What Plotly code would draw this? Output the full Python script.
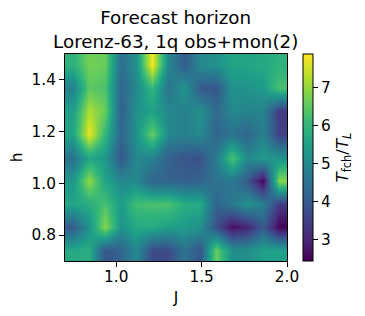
import plotly.graph_objects as go

J_centers = [0.746, 0.839, 0.932, 1.025, 1.118, 1.211, 1.304, 1.396, 1.489, 1.582, 1.675, 1.768, 1.861, 1.954]
h_centers = [0.744, 0.833, 0.922, 1.011, 1.100, 1.189, 1.278, 1.367, 1.456]
row_0744 = [5.7, 5.8, 3.9, 4.2, 5.0, 3.7, 3.7, 4.5, 3.9, 6.6, 5.1, 5.1, 5.5, 5.5]
row_0833 = [4.0, 5.2, 6.9, 5.2, 5.7, 5.7, 5.5, 5.4, 5.2, 3.8, 2.7, 3.0, 4.0, 2.5]
row_0922 = [5.6, 5.8, 6.3, 5.4, 6.2, 6.3, 6.3, 5.8, 5.7, 4.2, 4.6, 5.2, 4.8, 3.4]
row_1011 = [5.3, 7.0, 5.6, 5.0, 5.0, 4.2, 4.2, 4.1, 4.2, 4.5, 4.6, 4.0, 2.5, 6.9]
row_1100 = [4.5, 5.6, 5.3, 3.9, 5.0, 4.8, 4.1, 3.9, 3.8, 4.7, 6.3, 5.0, 5.4, 5.2]
row_1189 = [5.6, 7.7, 6.0, 4.2, 5.2, 6.6, 5.0, 4.8, 5.0, 4.2, 4.5, 4.2, 4.8, 3.5]
row_1278 = [5.5, 7.2, 6.6, 4.1, 5.2, 5.5, 5.0, 4.8, 5.2, 4.3, 5.0, 4.9, 4.9, 3.4]
row_1367 = [4.8, 6.5, 6.3, 4.2, 5.0, 6.0, 4.5, 5.3, 4.0, 3.9, 5.2, 5.2, 5.4, 6.3]
row_1456 = [5.9, 6.7, 6.6, 4.4, 5.2, 7.8, 5.0, 4.0, 5.0, 5.2, 5.6, 5.6, 5.7, 5.9]
Z = [row_0744, row_0833, row_0922, row_1011, row_1100, row_1189, row_1278, row_1367, row_1456]
z_min, z_max = 2.45, 7.87
FONT = "DejaVu Sans"
TICK_SIZE = 15.3

fig = go.Figure(go.Heatmap(
    x=J_centers, y=h_centers, z=Z, zsmooth="best", colorscale="Viridis",
    zmin=z_min, zmax=z_max,
    colorbar=dict(
        thickness=10, thicknessmode="pixels", len=1, lenmode="fraction",
        x=1.066, xanchor="left", y=0.5, yanchor="middle", xpad=0, ypad=0,
        outlinewidth=1, outlinecolor="black",
        tickvals=[3, 4, 5, 6, 7], ticks="outside", ticklen=5, tickwidth=1, tickcolor="black",
        tickfont=dict(family=FONT, size=TICK_SIZE, color="black"),
        title=dict(text="<i>T</i><sub>fch</sub>/<i>T</i><sub><i>L</i></sub>", side="right",
                   font=dict(family=FONT, size=16.5, color="black")),
    ),
))
axis_style = dict(showline=True, linecolor="black", linewidth=1, mirror=True,
                  ticks="outside", ticklen=5, tickwidth=1, tickcolor="black",
                  showgrid=False, zeroline=False, automargin=False,
                  tickfont=dict(family=FONT, size=TICK_SIZE, color="black"))
fig.update_xaxes(range=[0.7, 2.0], tickvals=[1.0, 1.5, 2.0], ticktext=["1.0", "1.5", "2.0"],
                 ticklabelstandoff=-3,
                 title=dict(text="J", font=dict(family=FONT, size=TICK_SIZE, color="black"), standoff=6), **axis_style)
fig.update_yaxes(range=[0.7, 1.5], tickvals=[0.8, 1.0, 1.2, 1.4], ticktext=["0.8", "1.0", "1.2", "1.4"],
                 title=dict(text="h", font=dict(family=FONT, size=TICK_SIZE, color="black"), standoff=6), **axis_style)
fig.update_layout(
    width=357, height=308, autosize=False,
    margin=dict(l=57, r=77, t=45.5, b=55),
    paper_bgcolor="white", plot_bgcolor="white",
    title=dict(text="Forecast horizon<br>Lorenz-63, 1q obs+mon(2)",
               x=167.7 / 357, xanchor="center", y=0.948, yanchor="top",
               font=dict(family=FONT, size=18.3, color="black")),
)
fig.write_html("out.html", config={"displayModeBar": False})
